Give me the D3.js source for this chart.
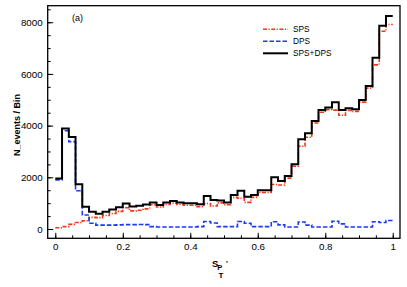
<!DOCTYPE html>
<html>
<head>
<meta charset="utf-8">
<script src="https://cdn.jsdelivr.net/npm/d3@7"></script>
<style>
  body { margin: 0; background: #fff; }
  svg { font-family: "Liberation Sans", Arial, sans-serif; }
</style>
</head>
<body>
<div id="chart"></div>
<script>
// bin edges: 50 bins of width 0.02
const binWidth = 0.02;
const sps = [50, 90, 180, 250, 320, 450, 440, 520, 600, 680,
    820, 700, 725, 780, 940, 850, 950, 1000, 950, 920,
    920, 865, 985, 890, 1010, 940, 1225, 1190, 1030, 1225,
    1410, 1410, 1720, 1700, 1970, 2430, 3200, 3550, 4100, 4520,
    4620, 4600, 4400, 4590, 4550, 4910, 5450, 6350, 7650, 7910];
const dps = [1900, 3800, 3380, 1480, 540, 220, 150, 150, 150, 160,
    170, 170, 175, 170, 90, 80, 80, 80, 80, 80,
    80, 90, 290, 230, 90, 90, 90, 290, 220, 90,
    90, 90, 280, 160, 80, 80, 270, 150, 80, 80,
    80, 300, 200, 80, 80, 80, 80, 280, 250, 330];
const total = [1950, 3890, 3560, 1730, 860, 670, 590, 670, 750, 840,
    990, 870, 900, 950, 1030, 930, 1030, 1080, 1030, 1000,
    1000, 955, 1275, 1120, 1100, 1030, 1315, 1480, 1250, 1315,
    1500, 1500, 2000, 1860, 2050, 2510, 3470, 3700, 4180, 4600,
    4700, 4900, 4600, 4670, 4630, 4990, 5530, 6630, 7860, 8240];
const xTicks = [0, 0.2, 0.4, 0.6, 0.8, 1];
const yTicks = [0, 2000, 4000, 6000, 8000];
const seriesNames = ["SPS", "DPS", "SPS+DPS"];

const W = 407, H = 287;
const padL = 47.7, padR = 400, padT = 5.7, padB = 238.3;

const svg = d3.select("#chart")
    .append("svg")
    .attr("width", W)
    .attr("height", H);

const xScale = d3.scaleLinear()
    .domain([-0.0225, 1.0215])
    .range([padL, padR]);

const yScale = d3.scaleLinear()
    .domain([-360, 8640])
    .range([padB, padT]);

// histogram step path
const stepLine = d3.line()
    .x(d => xScale(d[0]))
    .y(d => yScale(d[1]))
    .curve(d3.curveStepAfter);

function toPoints(vals) {
    const pts = vals.map((v, i) => [i * binWidth, v]);
    pts.push([vals.length * binWidth, vals[vals.length - 1]]);
    return pts;
}

const series = [
    { name: seriesNames[0], values: sps, color: "#f03a1a", width: 1.6, dash: "4,1.5,1.2,1.5" },
    { name: seriesNames[1], values: dps, color: "#1d3cf0", width: 1.6, dash: "4.5,2" },
    { name: seriesNames[2], values: total, color: "#000", width: 2, dash: null }
];

svg.append("clipPath").attr("id", "clip")
    .append("rect")
    .attr("x", padL).attr("y", padT)
    .attr("width", padR - padL).attr("height", padB - padT);

const plot = svg.append("g").attr("clip-path", "url(#clip)");

series.forEach(s => {
    plot.append("path")
        .datum(toPoints(s.values))
        .attr("d", stepLine)
        .attr("fill", "none")
        .attr("stroke", s.color)
        .attr("stroke-width", s.width)
        .attr("stroke-dasharray", s.dash);
});

// axes with inward ticks
const xMinor = d3.range(0, 1.0001, 0.05);
const yMinor = d3.range(0, 8501, 500);

const xAxis = svg.append("g")
    .attr("transform", `translate(0, ${padB})`)
    .call(d3.axisBottom(xScale).tickValues(xMinor).tickSize(-3).tickFormat(""));
const xAxisMajor = svg.append("g")
    .attr("transform", `translate(0, ${padB})`)
    .call(d3.axisBottom(xScale).tickValues(xTicks).tickSize(-5.5).tickPadding(8)
        .tickFormat(d => d === 0 || d === 1 ? d3.format("d")(d) : d3.format(".1f")(d)));

const yAxis = svg.append("g")
    .attr("transform", `translate(${padL}, 0)`)
    .call(d3.axisLeft(yScale).tickValues(yMinor).tickSize(-3).tickFormat(""));
const yAxisMajor = svg.append("g")
    .attr("transform", `translate(${padL}, 0)`)
    .call(d3.axisLeft(yScale).tickValues(yTicks).tickSize(-5.5).tickPadding(5)
        .tickFormat(d3.format("d")));

[xAxis, xAxisMajor, yAxis, yAxisMajor].forEach(a => {
    a.select(".domain").remove();
    a.selectAll("line").attr("stroke", "#000").attr("stroke-width", 1);
    a.selectAll("text").style("font-size", "9.8px").attr("fill", "#000")
        .style("font-family", "'Liberation Sans', Arial, sans-serif");
});
xAxisMajor.selectAll("text").attr("dy", "0.4em");

// frame
svg.append("rect")
    .attr("x", padL).attr("y", padT)
    .attr("width", padR - padL).attr("height", padB - padT)
    .attr("fill", "none")
    .attr("stroke", "#000")
    .attr("stroke-width", 1.3);

// panel label
svg.append("text")
    .text("(a)")
    .attr("x", 72).attr("y", 20.5)
    .style("font-size", "9px");

// legend
const legend = svg.append("g");
series.forEach((s, i) => {
    const ly = 29.3 + i * 12;
    legend.append("line")
        .attr("x1", 263).attr("x2", 288)
        .attr("y1", ly).attr("y2", ly)
        .attr("stroke", s.color)
        .attr("stroke-width", s.width)
        .attr("stroke-dasharray", s.dash);
    legend.append("text")
        .text(s.name)
        .attr("x", 293).attr("y", ly + 3)
        .style("font-size", "8.3px");
});

// y label
svg.append("text")
    .text("N_events / Bin")
    .attr("transform", "translate(20, 125) rotate(-90)")
    .attr("text-anchor", "middle")
    .style("font-size", "9px")
    .style("font-weight", "bold");

// x label S_{P_T}'
const xl = svg.append("g").style("font-weight", "bold");
xl.append("text").text("S").attr("x", 212).attr("y", 266.5).style("font-size", "9.5px");
xl.append("text").text("P").attr("x", 217.3).attr("y", 270).style("font-size", "7.5px");
xl.append("text").text("T").attr("x", 218.6).attr("y", 277.5).style("font-size", "8px");
xl.append("text").text("'").attr("x", 226).attr("y", 266).style("font-size", "8px");
</script>
</body>
</html>
